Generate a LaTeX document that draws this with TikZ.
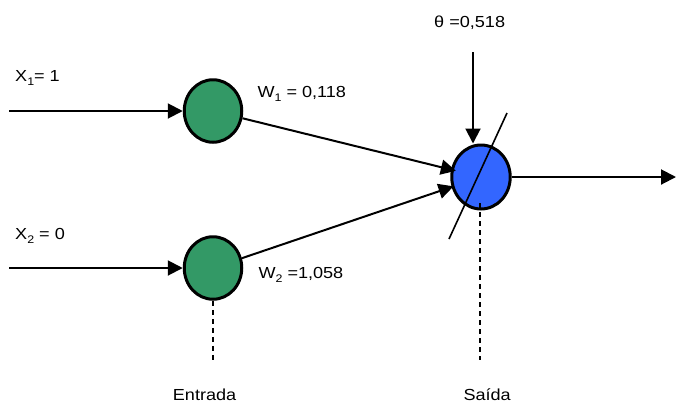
\documentclass[tikz,border=0pt]{standalone}
\usepackage{fontspec}
\setmainfont{Liberation Sans}
\usetikzlibrary{arrows.meta,shapes.geometric}
\definecolor{neurgreen}{RGB}{51,153,102}
\definecolor{neurblue}{RGB}{51,102,255}
\newcommand{\lbl}[1]{\scalebox{1.13}[1]{#1}}
\newcommand{\sbs}[1]{\raisebox{-0.25em}{\fontsize{11bp}{12bp}\selectfont #1}}
\begin{document}
\begin{tikzpicture}[x=1bp,y=-1bp,
  neuron/.style={ellipse,draw=black,line width=3bp,inner sep=0pt,
    minimum width=57.5bp,minimum height=62.5bp},
  arr/.style={line width=2bp,-{Triangle[length=15bp,width=15bp]}},
  plainline/.style={line width=1.6bp},
  dashline/.style={line width=2bp,dash pattern=on 5bp off 4bp},
  txt/.style={inner sep=0pt,anchor=base west,font=\fontsize{16bp}{19bp}\selectfont}]
\useasboundingbox (0,0) rectangle (676,405);

% nodes
\node[neuron,fill=neurgreen] (g1) at (213,111) {};
\node[neuron,fill=neurgreen] (g2) at (213,268) {};
\node[neuron,fill=neurblue,minimum width=58.5bp,minimum height=64bp] (b) at (481,177) {};

% coordinates
\coordinate (in1) at (9,111);
\coordinate (in2) at (9,268);
\coordinate (th) at (473,52);
\coordinate (out) at (676,177);
\coordinate (s1) at (507,113);
\coordinate (s2) at (449,239);
\coordinate (dg) at (213,360);
\coordinate (db0) at (480,203);
\coordinate (db) at (480,360);

% connectors
\draw[arr] (in1) -- (g1);
\draw[arr] (in2) -- (g2);
\draw[arr,shorten >=-5bp] (g1) -- (b);
\draw[arr,shorten >=-2bp] (g2) -- (b);
\draw[arr] (th) -- (th |- b.north);
\draw[arr] (b) -- (out);
\draw[plainline] (s1) -- (s2);
\draw[dashline] (g2.south) -- (dg);
\draw[dashline] (db0) -- (db);

% labels
\node[txt] (lx1) at (15,81.7) {\lbl{X\sbs{1}= 1}};
\node[txt] (lx2) at (15,239.3) {\lbl{X\sbs{2} = 0}};
\node[txt] (lw1) at (257.3,97.7) {\lbl{W\sbs{1} = 0,118}};
\node[txt] (lw2) at (258.3,278.3) {\lbl{W\sbs{2} =1,058}};
\node[txt] (lth) at (434,27.3) {\lbl{θ =0,518}};
\node[txt] (len) at (172.7,400) {\lbl{Entrada}};
\node[txt] (lsa) at (463.3,400) {\lbl{Saída}};
\end{tikzpicture}
\end{document}
